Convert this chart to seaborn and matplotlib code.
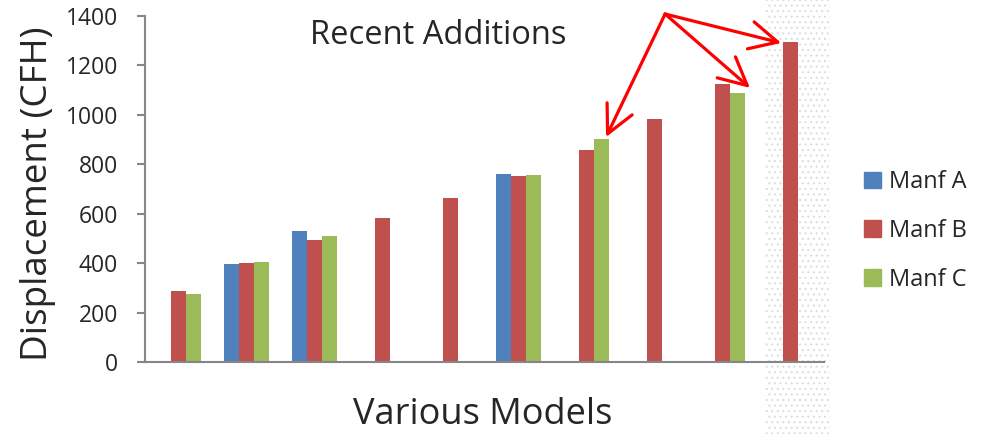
import numpy as np
import pandas as pd
import matplotlib
matplotlib.use("Agg")
import matplotlib.pyplot as plt
import matplotlib.patches as mpatches
import seaborn as sns

models = ["M1", "M2", "M3", "M4", "M5", "M6", "M7", "M8", "M9", "M10"]
manf_a = [np.nan, 397, 529, np.nan, np.nan, 762, np.nan, np.nan, np.nan, np.nan]
manf_b = [288, 399, 494, 581, 663, 753, 857, 983, 1123, 1295]
manf_c = [274, 404, 509, np.nan, np.nan, 757, 903, np.nan, 1088, np.nan]
series = ["Manf A", "Manf B", "Manf C"]
colors = ["#4F81BD", "#C0504D", "#9BBB59"]
yticks = [0, 200, 400, 600, 800, 1000, 1200, 1400]

rows = []
for name, vals in zip(series, [manf_a, manf_b, manf_c]):
    for m, v in zip(models, vals):
        rows.append({"Model": m, "Manf": name, "Value": v})
df = pd.DataFrame(rows).dropna()

sns.set_style("white")
plt.rcParams["font.family"] = ["Open Sans", "DejaVu Sans"]

W, H = 986, 434
fig = plt.figure(figsize=(W / 100, H / 100), dpi=100)

# faint halftone stripe in background
plt.rcParams["hatch.linewidth"] = 0.8
stripe = mpatches.Rectangle((765 / W, 0), 65 / W, 1, transform=fig.transFigure,
                            facecolor="none", edgecolor="#dddddd", hatch="...",
                            linewidth=0, zorder=-5)
fig.patches.append(stripe)

ax = fig.add_axes([145 / W, 1 - 362 / H, (824 - 145) / W, (362 - 16) / H])
ax.set_zorder(1)
ax.patch.set_alpha(0)

sns.barplot(data=df, x="Model", y="Value", hue="Manf", order=models,
            hue_order=series, palette=colors, saturation=1, width=0.66,
            linewidth=0, errorbar=None, ax=ax, legend=False)

ax.set_xlim(-0.5, len(models) - 0.5)
ax.set_ylim(0, 1400)
ax.set_yticks(yticks)
ax.set_yticklabels([str(t) for t in yticks], fontsize=16.5)
ax.set_xticks([])
ax.set_xlabel("Various Models", fontsize=26)
ax.set_ylabel("Displacement (CFH)", fontsize=26.5)
ax.xaxis.set_label_coords((483 - 145) / 679, (362 - 397) / 346)
ax.yaxis.set_label_coords((56 - 145) / 679, (362 - 194) / 346)
for s in ["top", "right"]:
    ax.spines[s].set_visible(False)
for s in ["left", "bottom"]:
    ax.spines[s].set_color("#868686")
    ax.spines[s].set_linewidth(1.5)
ax.tick_params(axis="y", length=5.8, width=1.5, color="#868686", pad=13.5, left=True)

ax.text((438 - 145) / 679, (362 - 35) / 346, "Recent Additions", transform=ax.transAxes,
        fontsize=23.5, ha="center", va="center")

start = (7.16, 1408)
for tip in [(6.29, 910), (8.41, 1109), (8.87, 1291)]:
    ax.annotate("", xy=tip, xytext=start, annotation_clip=False,
                arrowprops=dict(arrowstyle="->,head_length=1.0,head_width=0.5",
                                color="#FF0000", lw=2.3, mutation_scale=20,
                                shrinkA=0, shrinkB=0))

handles = [mpatches.Patch(color=c, label=s) for c, s in zip(colors, series)]
fig.legend(handles=handles, loc="center left", bbox_to_anchor=(843 / W, 1 - 231 / H),
           frameon=False, fontsize=17, handlelength=0.7, handleheight=0.7,
           handletextpad=0.35, labelspacing=1.05)

fig.savefig("out.png", dpi=100)
